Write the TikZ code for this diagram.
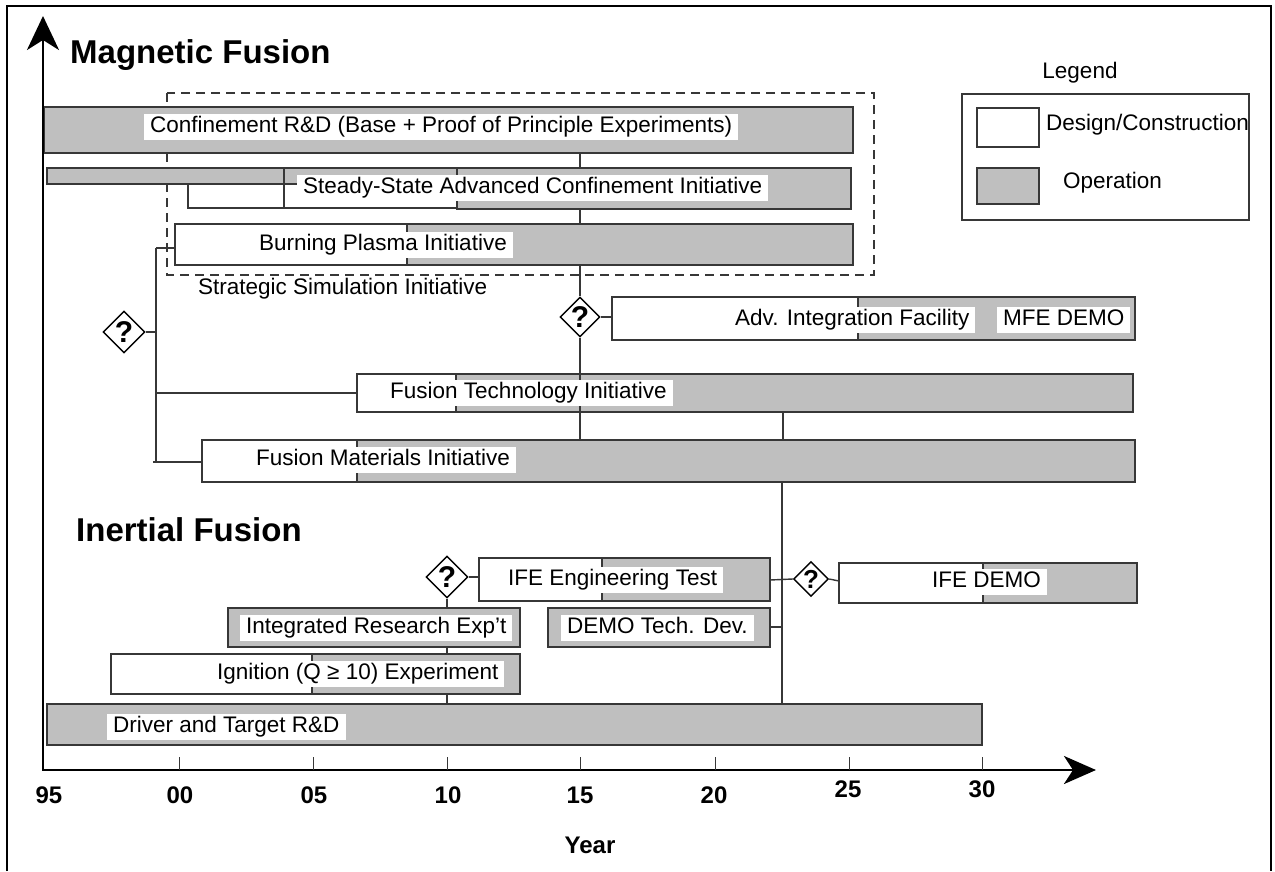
\documentclass[tikz,border=0pt]{standalone}
\usepackage{fontspec}
\setmainfont{Liberation Sans}
\usetikzlibrary{shapes.geometric,arrows.meta}
\definecolor{opgray}{RGB}{191,191,191}
\definecolor{edgec}{RGB}{55,55,55}
\newcommand\mkbar[6]{\node[#2,anchor=north west,minimum width={(#5-#3)*1pt},minimum height={(#6-#4)*1pt}] (#1) at (#3,#4) {};}
\tikzset{
  box/.style={draw=edgec,line width=1.4pt,inner sep=0pt,outer sep=0pt},
  des/.style={box,fill=white},
  ope/.style={box,fill=opgray},
  frameonly/.style={box},
  lab/.style={fill=white,anchor=west,inner xsep=6pt,inner ysep=2pt,text height=16.5pt,text depth=5pt,font=\fontsize{22.5}{26}\selectfont},
  plain/.style={inner sep=0pt,font=\fontsize{22.5}{26}\selectfont},
  conn/.style={draw=edgec,line width=1.4pt},
  quest/.style={diamond,draw=black,fill=white,line width=1.4pt,minimum width=42pt,minimum height=42pt,inner sep=0pt,font=\bfseries\fontsize{30}{32}\selectfont},
  quests/.style={quest,minimum width=35pt,minimum height=35pt,font=\bfseries\fontsize{26}{28}\selectfont},
  titletext/.style={font=\bfseries\fontsize{33}{38}\selectfont,anchor=base west,inner sep=0pt},
  ticklab/.style={font=\bfseries\fontsize{24}{27}\selectfont,inner sep=0pt},
  tickline/.style={draw=edgec,line width=1pt},
  axisline/.style={draw=black,line width=2.8pt}
}
\begin{document}
\begin{tikzpicture}[x=1pt,y=-1pt]
\useasboundingbox (0,0) rectangle (1275,871);
% frame
\draw[line width=2pt] (7,871) -- (7,6) -- (1271,6) -- (1271,871);
% titles
\node[titletext] (tmag) at (70,63) {Magnetic Fusion};
\node[titletext] (tine) at (76,541) {Inertial Fusion};
% legend
\node[plain] (legt) at (1080,73) {Legend};
\mkbar{legbox}{box}{962}{94}{1249}{220}
\mkbar{legw}{des}{977}{108}{1039}{147}
\mkbar{legg}{ope}{977}{168}{1039}{204}
\node[plain,anchor=west] (legwt) at (1046,125) {Design/Construction};
\node[plain,anchor=west] (leggt) at (1063,183) {Operation};
% dashed region
\draw[draw=edgec,line width=1.4pt,dash pattern=on 9pt off 6pt] (167,93) rectangle (874,275);
% magnetic bars
\mkbar{conf}{ope}{44}{107}{853}{153}
\mkbar{ssthin}{ope}{47}{168}{457}{184}
\mkbar{sswhite}{des}{188}{184}{457}{208}
\mkbar{ssA}{frameonly}{284}{168}{457}{208}
\mkbar{ssop}{ope}{457}{168}{851}{209}
\mkbar{bpw}{des}{175}{224}{407}{265}
\mkbar{bpg}{ope}{407}{224}{853}{265}
\mkbar{aifw}{des}{612}{297}{858}{340}
\mkbar{aifg}{ope}{858}{297}{1135}{340}
\mkbar{ftw}{des}{357}{374}{456}{412}
\mkbar{ftg}{ope}{456}{374}{1133}{412}
\mkbar{fmw}{des}{202}{440}{357}{482}
\mkbar{fmg}{ope}{357}{440}{1135}{482}
% inertial bars
\mkbar{iftw}{des}{479}{558}{602}{601}
\mkbar{iftg}{ope}{602}{558}{770}{601}
\mkbar{ifdw}{des}{839}{563}{983}{603}
\mkbar{ifdg}{ope}{983}{563}{1137}{603}
\mkbar{dtd}{ope}{548}{608}{770}{647}
\mkbar{ire}{ope}{228}{608}{520}{647}
\mkbar{ignw}{des}{111}{654}{312}{694}
\mkbar{igng}{ope}{312}{654}{520}{694}
\mkbar{drv}{ope}{47}{704}{982}{745}
% decision diamonds
\node[quest] (dqA) at (124,332) {?};
\node[quest,minimum width=40pt,minimum height=40pt] (dqB) at (580,317) {?};
\node[quest] (dqC) at (447,577) {?};
\node[quests] (dqD) at (811,579) {?};
% helper coordinates
\coordinate (vA) at (156,248);
\coordinate (vAend) at (156,462);
\coordinate (vB) at (782,482);
\coordinate (vBmid) at (782,627);
% connectors (magnetic)
\draw[conn] (conf.south -| dqB) -- (ssop.north -| dqB);
\draw[conn] (ssop.south -| dqB) -- (bpg.north -| dqB);
\draw[conn] (bpg.south -| dqB) -- (dqB.north);
\draw[conn] (dqB.south) -- (fmg.north -| dqB);
\draw[conn] (dqB.east) -- (aifw.west |- dqB);
\draw[conn] (vA) -- (vAend);
\draw[conn] (vA) -- (bpw.west |- vA);
\draw[conn] (dqA.east) -- (dqA.east -| vA);
\draw[conn] (vA |- ftw.west) -- (ftw.west);
\draw[conn] ([xshift=-3pt]vAend) -- (fmw.west |- vAend);
\draw[conn] (ftg.south -| 783,0) -- (fmg.north -| 783,0);
\draw[conn] (vB) -- (drv.north -| vB);
% connectors (inertial)
\draw[conn] (dqC.south) -- (ire.north -| dqC);
\draw[conn] (ire.south -| dqC) -- (igng.north -| dqC);
\draw[conn] (igng.south -| dqC) -- (drv.north -| dqC);
\draw[conn] (dqC.east) -- (iftw.west |- dqC);
\draw[conn] (iftg.east |- 0,580) -- (dqD.west);
\draw[conn] (dqD.east) -- (ifdw.west |- 0,581);
\draw[conn] (dtd.east |- vBmid) -- (vBmid);
% labels
\node[lab] (confL) at (144,127) {Confinement R\&D (Base + Proof of Principle Experiments)};
\node[lab] (ssL) at (297,188) {Steady-State Advanced Confinement Initiative};
\node[lab] (bpL) at (253,245) {Burning Plasma Initiative};
\node[plain,anchor=west] (ssiL) at (198,289) {Strategic Simulation Initiative};
\node[lab] (aifL) at (729,320) {Adv. Integration Facility};
\node[lab] (mfeL) at (997,320) {MFE DEMO};
\node[lab] (ftL) at (384,393) {Fusion Technology Initiative};
\node[lab] (fmL) at (250,460) {Fusion Materials Initiative};
\node[lab] (iftL) at (502,580) {IFE Engineering Test};
\node[lab] (ifdL) at (926,582) {IFE DEMO};
\node[lab] (dtdL) at (561,628) {DEMO Tech. Dev.};
\node[lab] (ireL) at (240,628) {Integrated Research Exp't};
\node[lab] (ignL) at (211,674) {Ignition (Q ≥ 10) Experiment};
\node[lab] (drvL) at (107,727) {Driver and Target R\&D};
% axes
\draw[axisline,{Stealth[length=34pt,width=32pt,inset=10pt]}-{Stealth[length=32pt,width=28pt,inset=9pt]}] (43,16) -- (43,770) -- (1096,770);
\foreach \t in {179,313,447,580,715,849,982} \draw[tickline] (\t,757) -- (\t,770);
\node[ticklab] (y95) at (49,795) {95};
\node[ticklab] (y00) at (180,795) {00};
\node[ticklab] (y05) at (314,795) {05};
\node[ticklab] (y10) at (448,795) {10};
\node[ticklab] (y15) at (580,795) {15};
\node[ticklab] (y20) at (714,795) {20};
\node[ticklab] (y25) at (848,789) {25};
\node[ticklab] (y30) at (982,789) {30};
\node[ticklab] (year) at (590,845) {Year};
\end{tikzpicture}
\end{document}
